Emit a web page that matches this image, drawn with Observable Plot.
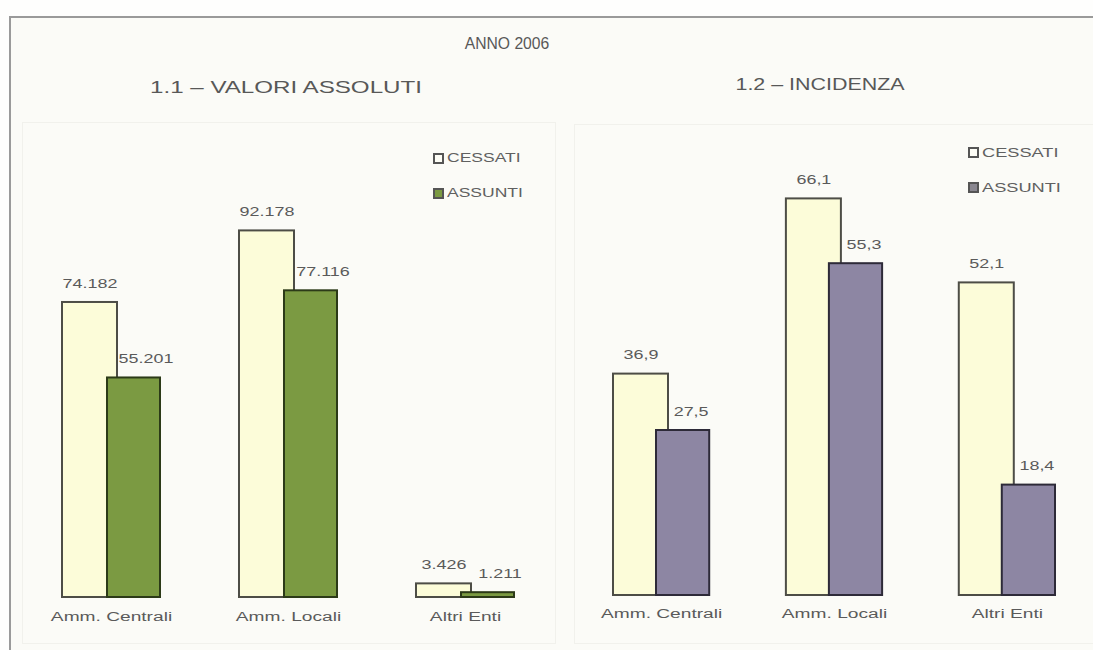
<!DOCTYPE html>
<html>
<head>
<meta charset="utf-8">
<script src="https://cdn.jsdelivr.net/npm/d3@7"></script>
<script src="https://cdn.jsdelivr.net/npm/@observablehq/plot@0.6"></script>
<style>
  html, body { margin: 0; padding: 0; background: #fefefd; }
  #page { position: relative; width: 1093px; height: 650px; overflow: hidden; background: #fefefd;
          font-family: "Liberation Sans", Arial, sans-serif; color: #585858; }
  #frame { position: absolute; left: 9px; top: 16px; width: 1100px; height: 700px;
           border-top: 2px solid #9a9a9a; border-left: 2px solid #9a9a9a; background: #fbfbf7; }
  .panel { position: absolute; border: 1px solid #f1f1ec; }
  .plot { position: absolute; top: 0; }
  .title { position: absolute; white-space: nowrap; transform-origin: center;
           transform: translate(-50%, -50%) scaleX(var(--sx, 1.4)); }
  .legend { position: absolute; white-space: nowrap; }
  .legend .item { display: flex; align-items: center; height: 0; position: absolute; }
  .legend .sw { width: 7px; height: 7px; border: 2px solid #555; margin-right: 3px; flex: none; }
  .legend .lab { display: inline-block; transform-origin: left center; transform: scaleX(1.4); color: #606060; }
</style>
</head>
<body>
<div id="page">
  <div id="frame"></div>
  <div class="panel" style="left:22px; top:122px; width:532px; height:520px;"></div>
  <div class="panel" style="left:574px; top:124px; width:530px; height:518px;"></div>

  <div class="title" style="left:507px; top:44px; font-size:16px; --sx:0.98;">ANNO 2006</div>
  <div class="title" style="left:286px; top:88px; font-size:17px; --sx:1.42;">1.1 – VALORI ASSOLUTI</div>
  <div class="title" style="left:820px; top:85px; font-size:17px; --sx:1.26;">1.2 – INCIDENZA</div>

  <div id="plots"></div>
  <div id="legend-left" class="legend"></div>
  <div id="legend-right" class="legend"></div>
</div>
<script>
// Categories and series
const categories = ["Amm. Centrali", "Amm. Locali", "Altri Enti"];
const seriesNames = ["CESSATI", "ASSUNTI"];

// 1.1 – absolute values
const cessatiAssoluti = [74182, 92178, 3426];
const assuntiAssoluti = [55201, 77116, 1211];

// 1.2 – incidence
const cessatiIncidenza = [36.9, 66.1, 52.1];
const assuntiIncidenza = [27.5, 55.3, 18.4];

// Italian number formatting
const it = d3.formatLocale({decimal: ",", thousands: ".", grouping: [3], currency: ["€", ""]});
const fmtInt = it.format(",d");
const fmtDec = it.format(",.1f");

const cessatiFill = "#fcfcd9";
const cessatiStroke = "#4d4d46";
const green = "#7b9a42";
const greenStroke = "#2c3a18";
const purple = "#8d86a3";
const purpleStroke = "#2d2a38";
const textColor = "#5a5a5a";
const font = '"Liberation Sans", Arial, sans-serif';

const rows = (values) => categories.map((c, i) => ({cat: c, value: values[i]}));

// Horizontally widen every label around its anchor point
function widenText(svg, sel, s) {
  svg.querySelectorAll(sel).forEach((t) => {
    const tr = t.getAttribute("transform");
    if (tr) {
      t.setAttribute("transform", tr + ` scale(${s},1)`);
    } else {
      const x = +t.getAttribute("x") || 0, y = +t.getAttribute("y") || 0;
      t.removeAttribute("x"); t.removeAttribute("y");
      t.setAttribute("transform", `translate(${x},${y}) scale(${s},1)`);
    }
  });
}

function panel({left, width, xRange, paddingInner, yDomain, yRange, cessati, assunti, fill, stroke,
                fmt, wCessati, assuntiOffset, assuntiDx, catDy}) {
  const step = (xRange[1] - xRange[0]) / (categories.length - paddingInner);
  const bw = step * (1 - paddingInner);
  const plot = Plot.plot({
    width, height: 650,
    marginTop: 0, marginRight: 0, marginBottom: 0, marginLeft: 0,
    style: {background: "transparent", fontFamily: font, color: textColor, overflow: "visible"},
    x: {type: "band", domain: categories, range: xRange, paddingInner, paddingOuter: 0, round: false, axis: null},
    y: {type: "linear", domain: yDomain, range: yRange, axis: null},
    marks: [
      Plot.barY(rows(cessati), {x: "cat", y: "value", fill: cessatiFill, stroke: cessatiStroke,
        strokeWidth: 2, insetRight: bw - wCessati}),
      Plot.barY(rows(assunti), {x: "cat", y: "value", fill, stroke, strokeWidth: 2,
        insetLeft: assuntiOffset}),
      Plot.text(rows(cessati), {x: "cat", y: "value", text: (d) => fmt(d.value),
        dx: -(bw - wCessati) / 2, dy: -19, fontSize: 13, fill: textColor, className: "vlab"}),
      Plot.text(rows(assunti), {x: "cat", y: "value", text: (d) => fmt(d.value),
        dx: assuntiOffset / 2 + assuntiDx, dy: -19, fontSize: 13, fill: textColor, className: "vlab"}),
      Plot.text(categories, {x: (d) => d, y: () => 0, text: (d) => d, dy: catDy,
        fontSize: 13.5, fill: textColor, className: "clab"})
    ]
  });
  plot.classList.add("plot");
  plot.style.left = left + "px";
  widenText(plot, ".vlab text", 1.38);
  widenText(plot, ".clab text", 1.42);
  document.getElementById("plots").appendChild(plot);
}

// 1.1 – VALORI ASSOLUTI
panel({
  left: 0, width: 560,
  xRange: [62, 514], paddingInner: 0.4463,
  yDomain: [0, 100000], yRange: [597, 199.3],
  cessati: cessatiAssoluti, assunti: assuntiAssoluti,
  fill: green, stroke: greenStroke, fmt: fmtInt,
  wCessati: 55, assuntiOffset: 45, assuntiDx: 12, catDy: 19
});

// 1.2 – INCIDENZA
panel({
  left: 560, width: 533,
  xRange: [53, 495], paddingInner: 0.4435,
  yDomain: [0, 100], yRange: [595, -5],
  cessati: cessatiIncidenza, assunti: assuntiIncidenza,
  fill: purple, stroke: purpleStroke, fmt: fmtDec,
  wCessati: 55, assuntiOffset: 43, assuntiDx: 8, catDy: 18
});

// Legends
function legend(id, left, top, gap, swatchFills, fontSize) {
  const el = document.getElementById(id);
  el.style.left = left + "px";
  el.style.top = top + "px";
  seriesNames.forEach((name, i) => {
    const item = document.createElement("div");
    item.className = "item";
    item.style.top = (i * gap) + "px";
    const sw = document.createElement("span");
    sw.className = "sw";
    sw.style.background = swatchFills[i];
    const lab = document.createElement("span");
    lab.className = "lab";
    lab.style.fontSize = fontSize + "px";
    lab.textContent = name;
    item.appendChild(sw);
    item.appendChild(lab);
    el.appendChild(item);
  });
}
legend("legend-left", 433, 158, 35, ["#fdfdf6", green], 12.5);
legend("legend-right", 968, 152, 35, ["#fdfdf6", "#8a8790"], 13);
</script>
</body>
</html>
